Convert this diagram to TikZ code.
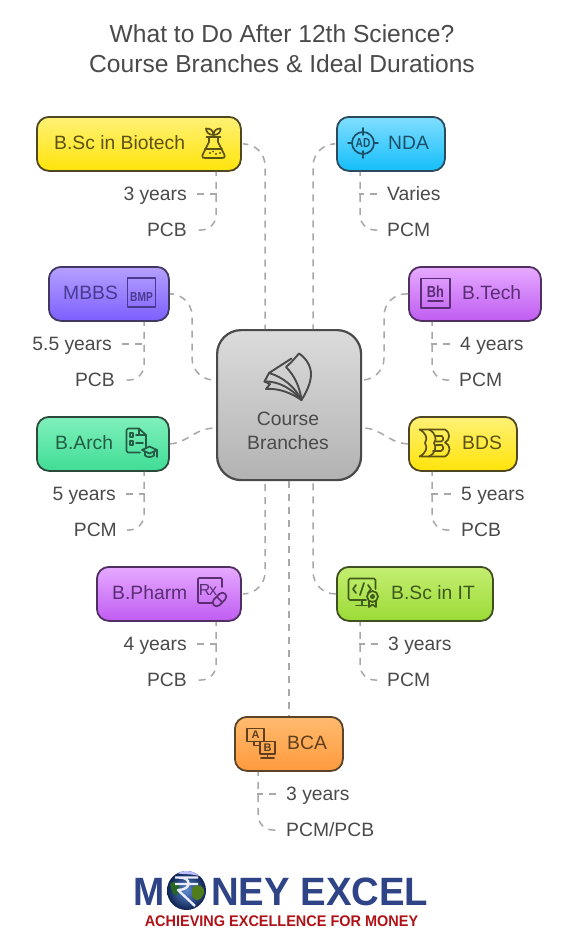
\documentclass[tikz,border=0pt]{standalone}
\usepackage{fontspec}
\setmainfont{Liberation Sans}
\usetikzlibrary{calc}
\definecolor{ink}{HTML}{4A4A4A}
\definecolor{dashc}{HTML}{A8A8A8}
\definecolor{yT}{HTML}{FFF176}\definecolor{yB}{HTML}{FFE40A}\definecolor{yE}{HTML}{4F4622}\definecolor{yX}{HTML}{5C5214}
\definecolor{cT}{HTML}{80DEFF}\definecolor{cB}{HTML}{14BEFA}\definecolor{cE}{HTML}{2C4A5C}\definecolor{cX}{HTML}{1C4F68}
\definecolor{vT}{HTML}{B5A0FF}\definecolor{vB}{HTML}{7D5FFF}\definecolor{vE}{HTML}{403860}\definecolor{vX}{HTML}{483A8C}
\definecolor{pT}{HTML}{E6AAFF}\definecolor{pB}{HTML}{C05CF2}\definecolor{pE}{HTML}{503060}\definecolor{pX}{HTML}{5A2D74}
\definecolor{gT}{HTML}{80F0BC}\definecolor{gB}{HTML}{40DD96}\definecolor{gE}{HTML}{2C4A3C}\definecolor{gX}{HTML}{245C44}
\definecolor{lT}{HTML}{C4EE72}\definecolor{lB}{HTML}{9CDB36}\definecolor{lE}{HTML}{3F4F22}\definecolor{lX}{HTML}{3F5A1A}
\definecolor{oT}{HTML}{FFBB6E}\definecolor{oB}{HTML}{FF9A3E}\definecolor{oE}{HTML}{5A4328}\definecolor{oX}{HTML}{5E3F1E}
\definecolor{logoblue}{HTML}{2E4486}\definecolor{logored}{HTML}{B01217}
\definecolor{globeI}{HTML}{5C8AD0}\definecolor{globeO}{HTML}{0E2350}
\tikzset{
  card/.style={draw=#1,line width=1.8pt,rounded corners=12pt,minimum height=54pt,inner sep=0pt,anchor=north west},
  yellowcard/.style={card=yE,top color=yT,bottom color=yB},
  bluecard/.style={card=cE,top color=cT,bottom color=cB},
  violetcard/.style={card=vE,top color=vT,bottom color=vB},
  purplecard/.style={card=pE,top color=pT,bottom color=pB},
  greencard/.style={card=gE,top color=gT,bottom color=gB},
  limecard/.style={card=lE,top color=lT,bottom color=lB},
  orangecard/.style={card=oE,top color=oT,bottom color=oB},
  label/.style={font=\fontsize{19.3}{19.3}\selectfont,inner sep=0pt,anchor=west,text height=13.8pt,text depth=0pt},
  leaf/.style={text=ink,font=\fontsize{19.3}{19.3}\selectfont,inner ysep=0pt,inner xsep=10pt,text height=13.8pt,text depth=0pt},
  leafl/.style={leaf,anchor=east},
  leafr/.style={leaf,anchor=west},
  link/.style={draw=dashc,line width=1.5pt,dash pattern=on 7pt off 6pt,rounded corners=22pt},
  sublink/.style={draw=dashc,line width=1.5pt,dash pattern=on 7pt off 6pt,dash phase=3pt,rounded corners=15pt},
  branch/.style={draw=dashc,line width=1.5pt,dash pattern=on 7pt off 6pt},
  ic/.style={line width=1.7pt,line join=round,line cap=round},
  ictext/.style={inner sep=0pt,font=\bfseries\fontsize{#1}{#1}\selectfont},
}
\begin{document}
\begin{tikzpicture}[x=1pt,y=-1pt]
\path[use as bounding box,fill=white] (0,0) rectangle (564,950);
\node[text=ink,align=center,font=\fontsize{24.6}{30}\selectfont,inner sep=0pt] (title) at (282,49) {What to Do After 12th Science?\\Course Branches \& Ideal Durations};
\node[card=ink,minimum width=144pt,minimum height=150pt,rounded corners=24pt,top color=black!14,bottom color=black!30,line width=2.2pt] (cen) at (216,329) {};
\node[text=ink,align=center,font=\fontsize{19.3}{24}\selectfont,inner sep=0pt] (cenlabel) at (288,431) {Course\\Branches};
\node[yellowcard,minimum width=204pt] (bio) at (36,116) {};
\node[bluecard,minimum width=108pt] (nda) at (336,116) {};
\node[violetcard,minimum width=120pt] (mbbs) at (48,266) {};
\node[purplecard,minimum width=132pt] (tech) at (408,266) {};
\node[greencard,minimum width=132pt] (arch) at (36,416) {};
\node[yellowcard,minimum width=108pt] (bds) at (408,416) {};
\node[purplecard,minimum width=144pt] (pharm) at (96,566) {};
\node[limecard,minimum width=156pt] (it) at (336,566) {};
\node[orangecard,minimum width=108pt] (bca) at (234,716) {};
\node[label,text=yX] (biot) at (54,143) {B.Sc in Biotech};
\node[label,text=cX] (ndat) at (388,143) {NDA};
\node[label,text=vX] (mbbst) at (63,293) {MBBS};
\node[label,text=pX] (techt) at (462,293) {B.Tech};
\node[label,text=gX] (archt) at (55,443) {B.Arch};
\node[label,text=yX] (bdst) at (462,443) {BDS};
\node[label,text=pX] (pharmt) at (112,593) {B.Pharm};
\node[label,text=lX] (itt) at (391,593) {B.Sc in IT};
\node[label,text=oX] (bcat) at (287,743) {BCA};
\node[leafl] (a1) at (197,194) {3 years};
\node[leafl] (a2) at (197,230) {PCB};
\node[leafr] (b1) at (377,194) {Varies};
\node[leafr] (b2) at (377,230) {PCM};
\node[leafl] (c1) at (122,344) {5.5 years};
\node[leafl] (c2) at (125,380) {PCB};
\node[leafr] (d1) at (450,344) {4 years};
\node[leafr] (d2) at (449,380) {PCM};
\node[leafl] (e1) at (126,494) {5 years};
\node[leafl] (e2) at (127,530) {PCM};
\node[leafr] (f1) at (451,494) {5 years};
\node[leafr] (f2) at (451,530) {PCB};
\node[leafl] (g1) at (197,644) {4 years};
\node[leafl] (g2) at (197,680) {PCB};
\node[leafr] (h1) at (378,644) {3 years};
\node[leafr] (h2) at (377,680) {PCM};
\node[leafr] (i1) at (276,794) {3 years};
\node[leafr] (i2) at (276,830) {PCM/PCB};
% main links
\draw[link] ([xshift=3pt]bio.east) -| ([xshift=-24pt]cen.north);
\draw[link] ([xshift=-3pt]nda.west) -| ([xshift=24pt]cen.north);
\draw[link] ([xshift=3pt]mbbs.east) -| (192,380) -- (cen.west |- 0,380);
\draw[link] (tech.west) -| (384,380) -- (cen.east |- 0,380);
\draw[link,rounded corners=0pt] (arch.east) .. controls (188,443) and (194,428) .. (cen.west |- 0,428);
\draw[link,rounded corners=0pt] (bds.west) .. controls (388,443) and (382,428) .. (cen.east |- 0,428);
\draw[link] ([xshift=3pt]pharm.east) -| ([xshift=-24pt]cen.south);
\draw[link] (it.west) -| ([xshift=24pt]cen.south);
\draw[link] (cen.south) -- (bca.north -| cen.south);
% sub links
\draw[branch] (a1.east) -- (216.75,194);
\draw[sublink] (bio.south -| 216,0) -- (216,230) -- (a2.east);
\draw[branch] (b1.west) -- (359.25,194);
\draw[sublink] (nda.south -| 360,0) -- (360,230) -- (b2.west);
\draw[branch] (c1.east) -- (144.75,344);
\draw[sublink] (mbbs.south -| 144,0) -- (144,380) -- (c2.east);
\draw[branch] (d1.west) -- (431.25,344);
\draw[sublink] (tech.south -| 432,0) -- (432,380) -- (d2.west);
\draw[branch] (e1.east) -- (144.75,494);
\draw[sublink] (arch.south -| 144,0) -- (144,530) -- (e2.east);
\draw[branch] (f1.west) -- (431.25,494);
\draw[sublink] (bds.south -| 432,0) -- (432,530) -- (f2.west);
\draw[branch] (g1.east) -- (216.75,644);
\draw[sublink] (pharm.south -| 216,0) -- (216,680) -- (g2.east);
\draw[branch] (h1.west) -- (359.25,644);
\draw[sublink] (it.south -| 360,0) -- (360,680) -- (h2.west);
\draw[branch] (i1.west) -- (257.25,794);
\draw[sublink] (bca.south -| 258,0) -- (258,830) -- (i2.west);
% flask icon
\begin{scope}[ic,draw=yX]
\draw (209,137) -- (209,142) -- (202.5,155) .. controls (201.5,157.5) and (203,158) .. (205,158) -- (222,158) .. controls (224,158) and (225.5,157.5) .. (224.5,155) -- (218,142) -- (218,137);
\draw (206.5,137) -- (220.5,137);
\draw (213.5,137) -- (213.5,132);
\draw (213.5,135) .. controls (208,135) and (206,131) .. (206,128.5) .. controls (210,128.5) and (213.5,130) .. (213.5,135);
\draw (213.5,135) .. controls (219,135) and (221,131) .. (220.5,128.5) .. controls (217,128.5) and (213.5,130) .. (213.5,135);
\draw (205,149) -- (222,149);
\fill[yX] (210,153) circle (1.2) (216,154) circle (1.2) (213,151.5) circle (1) (220,153) circle (1.1);
\end{scope}
% target icon
\begin{scope}[ic,draw=cX]
\draw (363,143) circle (11);
\draw (363,128) -- (363,135) (363,151) -- (363,158) (348,143) -- (352,143) (374,143) -- (378,143);
\node[ictext=13,text=cX,xscale=.78] (adt) at (363,143) {AD};
\end{scope}
% BMP icon
\draw[ic,draw=vX] (127.5,278) rectangle (155.5,307);
\node[ictext=13,text=vX,xscale=.78] (bmpt) at (141.5,297) {BMP};
% Bh icon
\draw[ic,draw=pX] (421,278.5) rectangle (450,308);
\node[ictext=16,text=pX,xscale=.8] (bht) at (435.5,291.5) {Bh};
\draw[ic,draw=pX] (428,301) -- (443,301);
% document with cap icon
\begin{scope}[ic,draw=gX]
\draw (146,448) -- (146,435) -- (139,428.5) -- (128,428.5) -- (126.5,430) -- (126.5,451) -- (128,452.5) -- (140,452.5);
\draw (139,428.5) -- (139,435) -- (146,435);
\draw (130,433) rectangle (133,437) (130,441) rectangle (133,445);
\draw (136,435) -- (140,435) (136,443) -- (143,443);
\draw (142,450) -- (149.5,446.5) -- (157,450) -- (149.5,453.5) -- cycle;
\draw (145,452) -- (145,455.5) .. controls (147,457.5) and (152,457.5) .. (154,455.5) -- (154,452);
\draw (157,450) -- (157,457);
\end{scope}
% DB logo icon
\begin{scope}[ic,draw=yX]
\draw (419.5,429.5) -- (429,429.5) .. controls (436,433) and (437,440) .. (434,443) .. controls (437,447) and (435,454) .. (429,456.5) -- (419.5,456.5) .. controls (426,453) and (428,448) .. (425,443) .. controls (428,438) and (426,433) .. (419.5,429.5) -- cycle;
\draw (429,429.5) -- (445,429.5) .. controls (451,433) and (450,440) .. (445,442.5) .. controls (451,445) and (451,453) .. (445,456.5) -- (429,456.5);
\draw (436,436) -- (442,436) .. controls (444,438) and (444,440) .. (441,441.5) -- (436,441.5);
\draw (436,445) -- (442,445) .. controls (444,447) and (444,449) .. (441,451) -- (433,451);
\end{scope}
% Rx icon
\begin{scope}[ic,draw=pX]
\draw (212,603) -- (199,603) -- (198,602) -- (198,579) -- (199,578) -- (221,578) -- (222,579) -- (222,587);
\node[ictext=15,text=pX,font=\fontsize{16}{16}\selectfont] (rxt) at (208,589.5) {R\kern-1.5pt x};
\begin{scope}[shift={(219.5,599.5)},rotate=45]
\draw (-4,-4) -- (4,-4) arc (-90:90:4) -- (-4,4) arc (90:270:4) -- cycle;
\draw (0,-4) -- (0,4);
\end{scope}
\end{scope}
% code monitor with badge icon
\begin{scope}[ic,draw=lX]
\draw (366,600) -- (350,600) -- (348.5,598.5) -- (348.5,580) -- (350,578.5) -- (374,578.5) -- (375.5,580) -- (375.5,589);
\draw (362,600) -- (362,605.5) (356,605.5) -- (367,605.5);
\draw (356,585) -- (353,589) -- (356,593) (368,585) -- (371,589) -- (368,593) (364,583) -- (360,595);
\draw (372.5,596.5) circle (5.5) circle (1.8);
\draw (369,601) -- (369,607) -- (372.5,604.5) -- (376,607) -- (376,601);
\end{scope}
% AB monitors icon
\begin{scope}[ic,draw=oX]
\draw (247,728.5) rectangle (264,741.5) (260,741.5) rectangle (275,754);
\draw (254,741.5) -- (254,745.5) -- (260,745.5) (267.5,754) -- (267.5,758) (261,758) -- (274,758);
\node[ictext=11,text=oX] (at) at (255.5,735) {A};
\node[ictext=11,text=oX] (bt) at (267.5,747.7) {B};
\end{scope}
% book pages icon
\begin{scope}[ic,draw=ink,line width=1.9pt]
\draw (286,367) -- (291.5,362) -- (299,353.5) .. controls (306,358) and (311,366) .. (311,374) .. controls (311,383) and (306,393) .. (301.5,400) .. controls (300,388) and (295,376) .. (286,367) -- cycle;
\draw (291.5,358.5) -- (269,373) .. controls (283,377) and (295,387) .. (301.5,400);
\draw (269,373) -- (264.5,381.5) .. controls (279,381) and (292,389) .. (301.5,400);
\draw (264.5,381.5) -- (270,384) -- (266,389) .. controls (279,388) and (291,393) .. (301.5,400);
\end{scope}
% logo
\node[font=\bfseries\fontsize{39.5}{39.5}\selectfont,text=logoblue,inner sep=0pt,anchor=west,xscale=.95,text height=29pt,text depth=0pt] (logom) at (133,890.5) {M};
\node[font=\bfseries\fontsize{39.5}{39.5}\selectfont,text=logoblue,inner sep=0pt,anchor=east,xscale=.97,text height=29pt,text depth=0pt] (logor) at (428.5,890.5) {NEY EXCEL};
\shade[inner color=globeI,outer color=globeO] (186.5,890.5) circle (19.5);
\begin{scope}
\clip (186.5,890.5) circle (19.5);
\fill[green!35!black!70!gray] (170,884) .. controls (176,878) and (182,886) .. (179,892) .. controls (176,899) and (172,894) .. (170,884) -- cycle;
\fill[brown!60!green!70!black] (192,888) .. controls (198,882) and (205,886) .. (204,893) .. controls (200,903) and (195,901) .. (192,896) -- cycle;
\fill[white!75!blue] (176,873) .. controls (186,869) and (198,871) .. (202,877) .. controls (192,873) and (184,875) .. (176,873) -- cycle;
\end{scope}
\draw[white!92!blue,line width=2.4pt,line join=round] (175,877.5) -- (198,877.5) (175,884) -- (198,884) (179,877.5) .. controls (192,877) and (192,890) .. (178,890) -- (195,906);
\node[font=\bfseries\fontsize{15.4}{15.4}\selectfont,text=logored,inner sep=0pt,xscale=.94] (tag) at (281.5,921) {ACHIEVING EXCELLENCE FOR MONEY};
\end{tikzpicture}
\end{document}
